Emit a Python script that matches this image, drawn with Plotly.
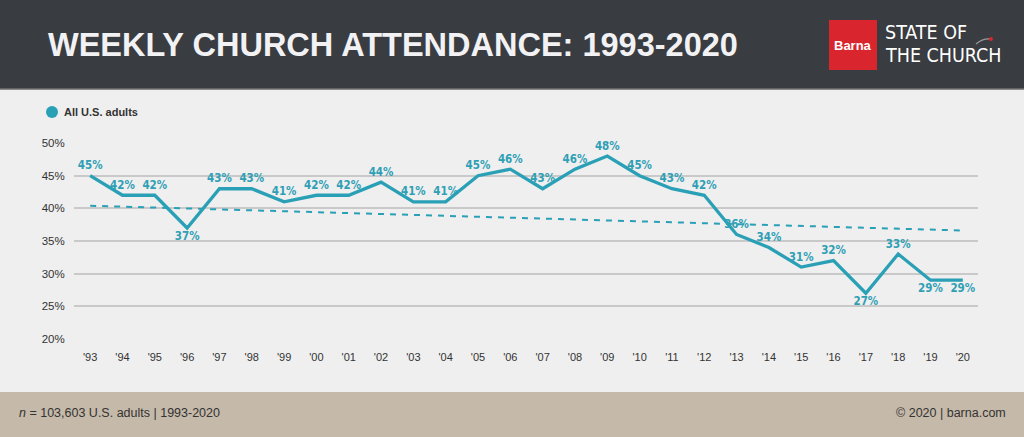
import plotly.graph_objects as go

# ---- data ----
years = ["'93", "'94", "'95", "'96", "'97", "'98", "'99", "'00", "'01", "'02",
         "'03", "'04", "'05", "'06", "'07", "'08", "'09", "'10", "'11", "'12",
         "'13", "'14", "'15", "'16", "'17", "'18", "'19", "'20"]
attendance = [45, 42, 42, 37, 43, 43, 41, 42, 42, 44,
              41, 41, 45, 46, 43, 46, 48, 45, 43, 42,
              36, 34, 31, 32, 27, 33, 29, 29]
label_below = ["'96", "'17", "'19", "'20"]
trend_years = ["'93", "'20"]
trend_values = [40.4, 36.6]
y_ticks = [20, 25, 30, 35, 40, 45, 50]
y_ticktext = ["20%", "25%", "30%", "35%", "40%", "45%", "50%"]

# ---- geometry ----
W, H = 1024, 437
L, R, T, B = 74, 46, 143, 98
PW, PH = W - L - R, H - T - B


def xp(px):
    return (px - L) / PW


def yp(py):
    return (H - B - py) / PH


TEAL = "#29a0b6"
LABEL_TEAL = "#2f9fb5"
DARK = "#333333"
FONT = "Liberation Sans, Arial, sans-serif"
NARROW = "DejaVu Sans Condensed, Liberation Sans Narrow, Liberation Sans, sans-serif"

fig = go.Figure()

fig.add_trace(go.Scatter(
    x=trend_years, y=trend_values, mode="lines",
    line=dict(color=TEAL, width=2, dash="6px,6px"),
    hoverinfo="skip", showlegend=False))

fig.add_trace(go.Scatter(
    x=years, y=attendance, mode="lines+markers+text",
    line=dict(color=TEAL, width=3.3),
    marker=dict(size=4, color="rgba(0,0,0,0)"),
    text=[f"{v}%" for v in attendance],
    textposition=["bottom center" if yr in label_below else "top center" for yr in years],
    textfont=dict(family=NARROW, size=11.5, color=LABEL_TEAL, weight="bold"),
    cliponaxis=False, showlegend=False))

shapes = [
    dict(type="rect", xref="paper", yref="paper", x0=xp(0), x1=xp(W), y0=yp(89), y1=yp(0),
         fillcolor="#393c40", line_width=0, layer="below"),
    dict(type="rect", xref="paper", yref="paper", x0=xp(0), x1=xp(W), y0=yp(90), y1=yp(88.5),
         fillcolor="#8a8a8a", line_width=0, layer="below"),
    dict(type="rect", xref="paper", yref="paper", x0=xp(0), x1=xp(W), y0=yp(H), y1=yp(392),
         fillcolor="#c5b9a9", line_width=0, layer="below"),
    dict(type="rect", xref="paper", yref="paper", x0=xp(829), x1=xp(877), y0=yp(70), y1=yp(20),
         fillcolor="#d9262e", line_width=0),
    dict(type="circle", xref="paper", yref="paper", x0=xp(46), x1=xp(58), y0=yp(118), y1=yp(106),
         fillcolor=TEAL, line_width=0),
    dict(type="path", xref="paper", yref="paper",
         path=f"M {xp(976)} {yp(44)} Q {xp(983)} {yp(38)} {xp(991)} {yp(39)}",
         line=dict(color="#9a9a9a", width=1.2)),
    dict(type="circle", xref="paper", yref="paper", x0=xp(989), x1=xp(993), y0=yp(41), y1=yp(37),
         fillcolor="#d9262e", line_width=0),
]

annotations = [
    dict(text="<b>WEEKLY CHURCH ATTENDANCE: 1993-2020</b>", x=xp(46), y=yp(45),
         xref="paper", yref="paper", xanchor="left", yanchor="middle", showarrow=False,
         font=dict(family=FONT, size=32.5, color="#f2f2f4")),
    dict(text="<b>Barna</b>", x=xp(853), y=yp(46), xref="paper", yref="paper",
         xanchor="center", yanchor="middle", showarrow=False,
         font=dict(family=FONT, size=13, color="white")),
    dict(text="STATE OF", x=xp(883), y=yp(32), xref="paper", yref="paper",
         xanchor="left", yanchor="middle", showarrow=False,
         font=dict(family=NARROW, size=19.5, color="white")),
    dict(text="THE CHURCH", x=xp(883), y=yp(56), xref="paper", yref="paper",
         xanchor="left", yanchor="middle", showarrow=False,
         font=dict(family=NARROW, size=19.5, color="white")),
    dict(text="<b>All U.S. adults</b>", x=xp(62), y=yp(112), xref="paper", yref="paper",
         xanchor="left", yanchor="middle", showarrow=False,
         font=dict(family=FONT, size=11, color=DARK)),
    dict(text="<i>n</i> = 103,603 U.S. adults | 1993-2020", x=xp(17), y=yp(413),
         xref="paper", yref="paper", xanchor="left", yanchor="middle", showarrow=False,
         font=dict(family=FONT, size=12.5, color=DARK)),
    dict(text="© 2020 | barna.com", x=xp(1008), y=yp(413),
         xref="paper", yref="paper", xanchor="right", yanchor="middle", showarrow=False,
         font=dict(family=FONT, size=12.5, color=DARK)),
]

fig.update_layout(
    width=W, height=H,
    margin=dict(l=L, r=R, t=T, b=B, pad=0),
    paper_bgcolor="#efefef", plot_bgcolor="#efefef",
    shapes=shapes, annotations=annotations,
    showlegend=False,
    xaxis=dict(type="category", categoryorder="array", categoryarray=years,
               range=[-0.5, 27.47], showgrid=False, zeroline=False, showline=False,
               ticks="outside", ticklen=8, tickcolor="rgba(0,0,0,0)",
               tickfont=dict(family=FONT, size=11, color=DARK), fixedrange=True),
    yaxis=dict(range=[20, 50], tickvals=y_ticks, ticktext=y_ticktext,
               showgrid=True, gridcolor="#c9c9c9", gridwidth=1.5, zeroline=False,
               showline=False, ticks="outside", ticklen=6, tickcolor="rgba(0,0,0,0)",
               tickfont=dict(family=FONT, size=11.5, color=DARK), fixedrange=True),
)

fig.write_html("out.html", config={"displayModeBar": False},
               post_script="document.body.style.margin='0';document.body.style.overflow='hidden';")
